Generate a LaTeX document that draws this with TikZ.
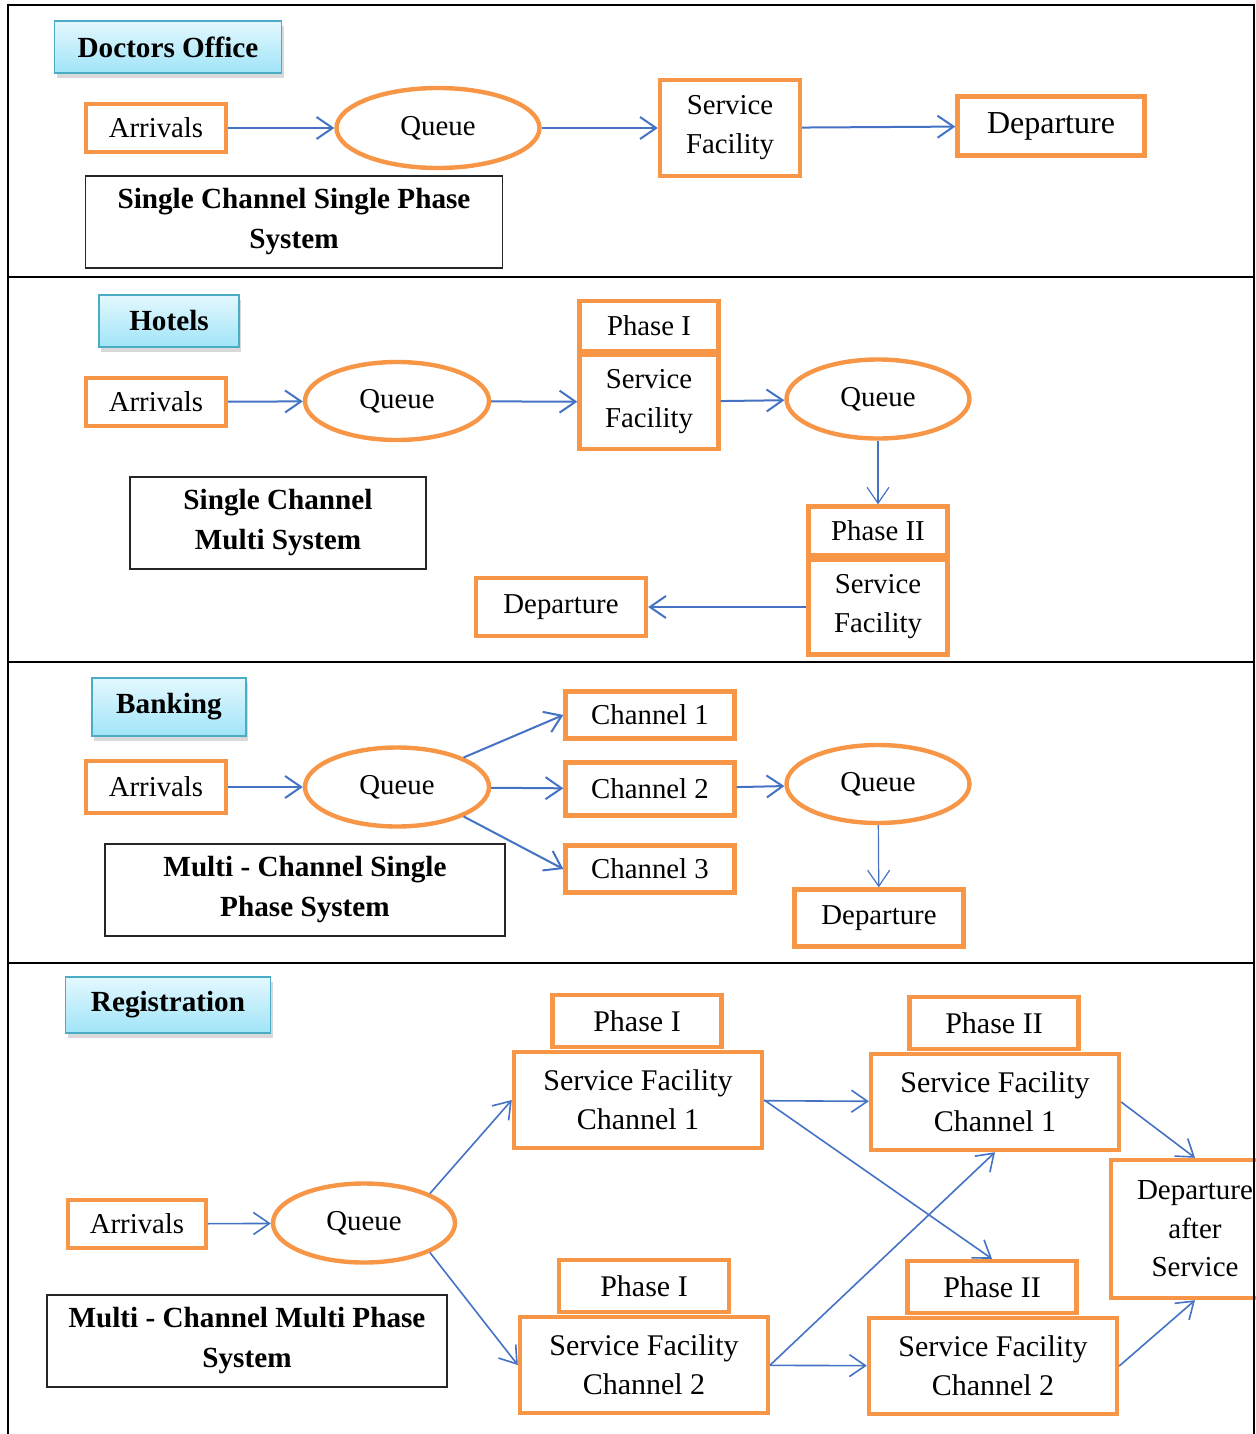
\documentclass[tikz,border=0pt]{standalone}
\usepackage{fontspec}
\setmainfont{Liberation Serif}
\usepackage{xcolor}
\usetikzlibrary{shapes.geometric, arrows.meta, shadows}
\definecolor{orangeline}{RGB}{247,150,70}
\definecolor{flowblue}{RGB}{68,114,196}
\definecolor{tagtop}{RGB}{228,248,254}
\definecolor{tagbottom}{RGB}{160,228,248}
\definecolor{tagedge}{RGB}{75,172,198}

\begin{document}
\begin{tikzpicture}
	[x=0.5pt, y=-0.5pt,
	orbox/.style = {rectangle, draw=orangeline, line width=2.2pt, fill=white, inner sep=0pt, align=center, font=\fontsize{14.4}{19.5}\selectfont},
	bigorbox/.style = {orbox, font=\fontsize{15}{19.5}\selectfont},
	queue/.style = {ellipse, draw=orangeline, line width=2.2pt, fill=white, inner sep=0pt, font=\fontsize{14.4}{17}\selectfont},
	sysbox/.style = {rectangle, draw=black!85, line width=0.7pt, fill=white, inner sep=0pt, align=center, font=\bfseries\fontsize{14.6}{20}\selectfont},
	tagbox/.style = {rectangle, draw=tagedge, line width=0.8pt, top color=tagtop, bottom color=tagbottom, inner sep=0pt, font=\bfseries\fontsize{14.6}{17}\selectfont, drop shadow={shadow xshift=1pt, shadow yshift=-2.5pt, opacity=0.3}},
	flow/.style = {draw=flowblue, line width=1pt, -{Straight Barb[length=8pt, width=11pt]}},
	thinflow/.style = {flow, line width=0.6pt}]
	\useasboundingbox (0,0) rectangle (1255,1434);
	% doctors office
	\node[tagbox, minimum width=113.5pt, minimum height=26pt] (tag1) at (168,47) {Doctors Office};
	\node[orbox, minimum width=70pt, minimum height=24pt] (arr1) at (156,128) {Arrivals};
	\node[queue, minimum width=101.5pt, minimum height=40pt] (q1) at (438,128) {Queue};
	\node[orbox, minimum width=70pt, minimum height=48pt] (sf1) at (730,128) {Service\\Facility};
	\node[orbox, minimum width=93.5pt, minimum height=29.5pt, font=\fontsize{16}{19}\selectfont] (dep1) at (1051,126) {Departure};
	\node[sysbox, minimum width=208.5pt, minimum height=46pt] (sys1) at (294,222) {Single Channel Single Phase\\System};
	\draw[flow] (arr1) -- (q1);
	\draw[flow] (q1) -- (sf1);
	\draw[flow] (sf1) -- (dep1);
	% hotels
	\node[tagbox, minimum width=70pt, minimum height=26pt] (tag2) at (169,321) {Hotels};
	\node[orbox, minimum width=70pt, minimum height=24pt] (arr2) at (156,402) {Arrivals};
	\node[queue, minimum width=92pt, minimum height=39pt] (q2a) at (397,401) {Queue};
	\node[orbox, minimum width=69.5pt, minimum height=25pt] (ph1) at (649,326) {Phase I};
	\node[orbox, minimum width=69.5pt, minimum height=47pt] (sf2a) at (649,402) {Service\\Facility};
	\node[queue, minimum width=91.5pt, minimum height=39.5pt] (q2b) at (878,399) {Queue};
	\node[orbox, minimum width=69.5pt, minimum height=24.5pt] (ph2) at (878,531) {Phase II};
	\node[orbox, minimum width=69.5pt, minimum height=47.5pt] (sf2b) at (878,607) {Service\\Facility};
	\node[orbox, minimum width=85pt, minimum height=29pt] (dep2) at (561,607) {Departure};
	\node[sysbox, minimum width=148pt, minimum height=46pt] (sys2) at (278,523) {Single Channel\\Multi System};
	\draw[flow] (arr2) -- (q2a);
	\draw[flow] (q2a) -- (sf2a);
	\draw[flow] (sf2a) -- (q2b);
	\draw[thinflow] (q2b) -- (ph2);
	\draw[flow] (sf2b) -- (dep2);
	% banking
	\node[tagbox, minimum width=77pt, minimum height=29pt] (tag3) at (169,707) {Banking};
	\node[orbox, minimum width=70pt, minimum height=26pt] (arr3) at (156,787) {Arrivals};
	\node[queue, minimum width=92pt, minimum height=39.5pt] (q3a) at (397,787) {Queue};
	\node[orbox, minimum width=84.5pt, minimum height=23.5pt] (ch1) at (650,715) {Channel 1};
	\node[orbox, minimum width=84.5pt, minimum height=26.5pt] (ch2) at (650,789) {Channel 2};
	\node[orbox, minimum width=84.5pt, minimum height=23.5pt] (ch3) at (650,869) {Channel 3};
	\node[queue, minimum width=91.5pt, minimum height=39pt] (q3b) at (878,784) {Queue};
	\node[orbox, minimum width=84.5pt, minimum height=28.5pt] (dep3) at (879,918) {Departure};
	\node[sysbox, minimum width=200pt, minimum height=46pt] (sys3) at (305,890) {Multi - Channel Single\\Phase System};
	\draw[flow] (arr3) -- (q3a);
	\draw[flow] (q3a.north east) -- (ch1.west);
	\draw[flow] (q3a) -- (ch2);
	\draw[flow] (q3a.south east) -- (ch3.west);
	\draw[flow] (ch2) -- (q3b);
	\draw[thinflow] (q3b) -- (dep3);
	% registration
	\node[tagbox, minimum width=102.5pt, minimum height=28pt] (tag4) at (168,1005) {Registration};
	\node[orbox, minimum width=69pt, minimum height=24pt] (arr4) at (137,1224) {Arrivals};
	\node[queue, minimum width=91pt, minimum height=39.5pt] (q4) at (364,1223) {Queue};
	\node[bigorbox, minimum width=84.5pt, minimum height=26pt] (p1a) at (637,1021) {Phase I};
	\node[bigorbox, minimum width=124pt, minimum height=48pt] (s1a) at (638,1100) {Service Facility\\Channel 1};
	\node[bigorbox, minimum width=84.5pt, minimum height=26pt] (p2a) at (994,1023) {Phase II};
	\node[bigorbox, minimum width=124pt, minimum height=48pt] (s2a) at (995,1102) {Service Facility\\Channel 1};
	\node[bigorbox, minimum width=85pt, minimum height=26pt] (p1b) at (644,1286) {Phase I};
	\node[bigorbox, minimum width=124pt, minimum height=48pt] (s1b) at (644,1365) {Service Facility\\Channel 2};
	\node[bigorbox, minimum width=84.5pt, minimum height=26pt] (p2b) at (992,1287) {Phase II};
	\node[bigorbox, minimum width=124pt, minimum height=48pt] (s2b) at (993,1366) {Service Facility\\Channel 2};
	\node[orbox, minimum width=84pt, minimum height=69pt, font=\fontsize{14.5}{19.25}\selectfont] (depf) at (1195,1229) {Departure\\after\\Service};
	\node[sysbox, minimum width=200pt, minimum height=46pt] (sys4) at (247,1341) {Multi - Channel Multi Phase\\System};
	\draw[flow, line width=0.8pt] (arr4) -- (q4);
	\draw[flow, line width=0.8pt] (q4.north east) -- (s1a.west);
	\draw[flow, line width=0.8pt] (q4.south east) -- (s1b.west);
	\draw[flow, line width=0.8pt] (s1a) -- (s2a);
	\draw[flow, line width=0.8pt] (s1a.east) -- (p2b.north);
	\draw[flow, line width=0.8pt] (s1b) -- (s2b);
	\draw[flow, line width=0.8pt] (s1b.east) -- (s2a.south);
	\draw[flow, line width=0.8pt] (s2a.east) -- (depf.north);
	\draw[flow, line width=0.8pt] (s2b.east) -- (depf.south);
	% frame
	\draw[line width=1pt] (8,1434) -- (8,5) -- (1254,5) -- (1254,1434);
	\draw[line width=1pt] (8,277) -- (1254,277);
	\draw[line width=1pt] (8,662) -- (1254,662);
	\draw[line width=1pt] (8,963) -- (1254,963);
\end{tikzpicture}
\end{document}
